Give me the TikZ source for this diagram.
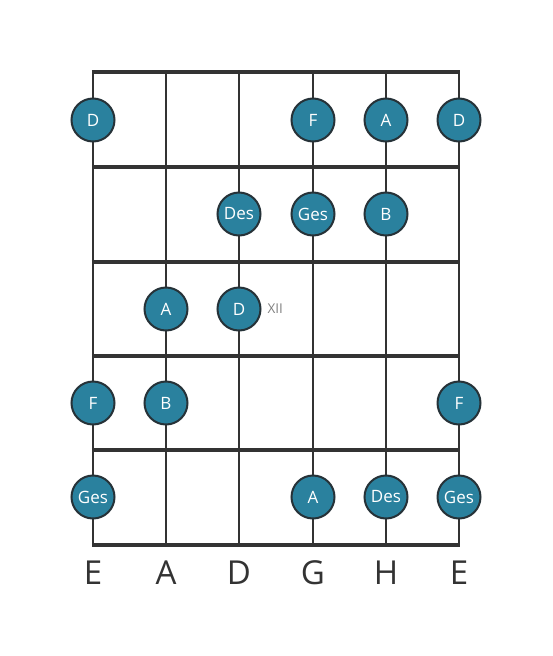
\documentclass[tikz,border=0pt]{standalone}
\usepackage{fontspec}
\setmainfont{Open Sans}
\definecolor{notefill}{HTML}{2A819E}
\definecolor{noteline}{HTML}{263238}
\definecolor{gridline}{HTML}{333333}
\begin{document}
\begin{tikzpicture}[x=1pt,y=-1pt,
  fret/.style={line width=4pt,draw=gridline},
  stringline/.style={line width=2.5pt,draw=gridline},
  note/.style={circle,minimum size=43pt,inner sep=0pt,fill=notefill,draw=noteline,line width=2pt,text=white,font=\fontsize{17}{17}\selectfont},
  strlabel/.style={font=\fontsize{33}{33}\selectfont,text=gridline},
  fretmark/.style={font=\fontsize{13.5}{13.5}\selectfont,text=gray}]
\useasboundingbox (0,0) rectangle (553,656);
% strings
\foreach \x in {93,166,239,313,386,459} \draw[stringline] (\x,72) -- (\x,545);
% frets
\foreach \y in {72,167,262,356,450,545} \draw[fret] (91.75,\y) -- (460.25,\y);
% notes
\node[note] (n1a) at (93,120) {D};
\node[note] (n1b) at (313,120) {F};
\node[note] (n1c) at (386,120) {A};
\node[note] (n1d) at (459,120) {D};
\node[note] (n2a) at (239,214) {Des};
\node[note] (n2b) at (313,214) {Ges};
\node[note] (n2c) at (386,214) {B};
\node[note] (n3a) at (166,309) {A};
\node[note] (n3b) at (239,309) {D};
\node[fretmark,anchor=west] (xii) at (264,309) {XII};
\node[note] (n4a) at (93,403) {F};
\node[note] (n4b) at (166,403) {B};
\node[note] (n4c) at (459,403) {F};
\node[note] (n5a) at (93,497) {Ges};
\node[note] (n5b) at (313,497) {A};
\node[note] (n5c) at (386,497) {Des};
\node[note] (n5d) at (459,497) {Ges};
% string names
\node[strlabel] (s1) at (93,573) {E};
\node[strlabel] (s2) at (166,573) {A};
\node[strlabel] (s3) at (239,573) {D};
\node[strlabel] (s4) at (313,573) {G};
\node[strlabel] (s5) at (386,573) {H};
\node[strlabel] (s6) at (459,573) {E};
\end{tikzpicture}
\end{document}
